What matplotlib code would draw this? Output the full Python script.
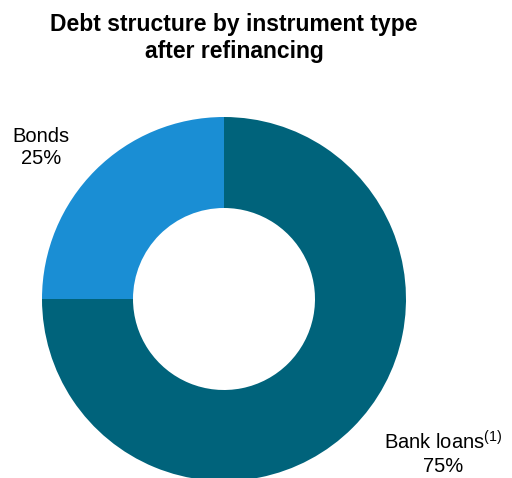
import matplotlib
matplotlib.use("Agg")
import matplotlib.pyplot as plt

plt.rcParams['font.family'] = ['Liberation Sans', 'DejaVu Sans']
plt.rcParams['mathtext.fontset'] = 'custom'
plt.rcParams['mathtext.rm'] = 'Liberation Sans'

# data
labels = ["Bank loans", "Bonds"]
shares = [75, 25]
colors = ["#00637B", "#1A8ED4"]

W, H = 512, 478
fig = plt.figure(figsize=(W / 100, H / 100), dpi=100)

# donut, centre ~(224, 298) px, radius ~182 px
cx, cy, r = 224, 299, 182
ax = fig.add_axes([(cx - r) / W, (H - cy - r) / H, 2 * r / W, 2 * r / H])
ax.pie(shares, colors=colors, startangle=90, counterclock=False,
       radius=1, wedgeprops=dict(width=0.5, linewidth=0))
ax.set_xlim(-1, 1)
ax.set_ylim(-1, 1)
ax.set_aspect('equal')
ax.axis('off')

fig.text(234 / W, 1 - 38 / H, "Debt structure by instrument type\nafter refinancing",
         ha='center', va='center', fontsize=16.5, fontweight='bold', linespacing=1.2)

fig.text(41 / W, 1 - 147 / H, "Bonds\n25%", ha='center', va='center',
         fontsize=14.5, linespacing=1.2)
fig.text(443 / W, 1 - 453 / H, "Bank loans$^{\\mathrm{(1)}}$\n75%", ha='center', va='center',
         fontsize=14.5, linespacing=1.2, multialignment='center')

fig.savefig("out.png", dpi=100)
